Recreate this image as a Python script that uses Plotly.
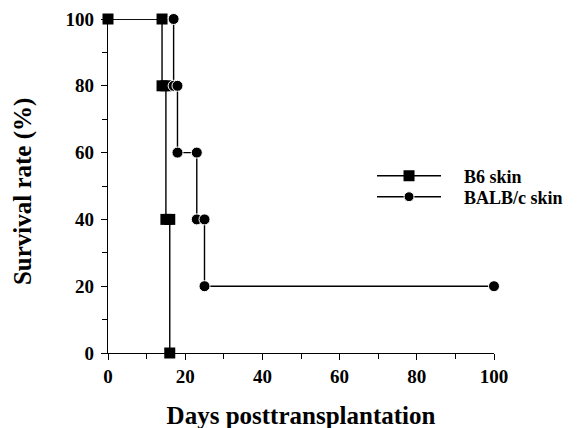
import plotly.graph_objects as go

# Data
b6_days = [0, 14, 14, 15, 15, 16, 16]
b6_surv = [100, 100, 80, 80, 40, 40, 0]
balb_days = [0, 17, 17, 18, 18, 23, 23, 25, 25, 100]
balb_surv = [100, 100, 80, 80, 60, 60, 40, 40, 20, 20]
x_ticks = [0, 20, 40, 60, 80, 100]
y_ticks = [0, 20, 40, 60, 80, 100]

FONT = "Liberation Serif"
SP = "&nbsp;" * 4

fig = go.Figure()
fig.add_trace(go.Scatter(
    x=b6_days, y=b6_surv, mode="lines+markers", name=SP + "<b>B6 skin</b>",
    line=dict(color="black", width=1.4),
    marker=dict(symbol="square", size=11, color="black", opacity=1),
    cliponaxis=False, legend="legend",
))
fig.add_trace(go.Scatter(
    x=balb_days, y=balb_surv, mode="lines+markers", name=SP + "<b>BALB/c skin</b>",
    line=dict(color="black", width=1.4),
    marker=dict(symbol="circle", size=[0] + [11] * (len(balb_days) - 1), color="black", opacity=1),
    cliponaxis=False, legend="legend2",
))

axis_common = dict(
    showline=True, linecolor="black", linewidth=1.4,
    ticks="outside", ticklen=6, tickwidth=1.4, tickcolor="black",
    showgrid=False, zeroline=False, automargin=False,
    tickfont=dict(family=FONT, size=19, color="black"),
    minor=dict(ticks="outside", ticklen=5, tickwidth=1.4, tickcolor="black", dtick=10, showgrid=False),
)

leg_common = dict(xanchor="left", yanchor="middle", itemwidth=64,
                  font=dict(family=FONT, size=18, color="black"), bgcolor="rgba(0,0,0,0)")

fig.update_layout(
    width=577, height=428,
    margin=dict(l=100, r=91, t=11, b=83),
    paper_bgcolor="white", plot_bgcolor="white",
    xaxis=dict(range=[0, 100], tickvals=x_ticks, ticktext=[f"<b>{v}</b>" for v in x_ticks],
               ticklabelstandoff=0,
               title=dict(text="<b>Days posttransplantation</b>", font=dict(family=FONT, size=25, color="black"), standoff=20),
               **axis_common),
    yaxis=dict(range=[0, 100], tickvals=y_ticks, ticktext=[f"<b>{v}</b>" for v in y_ticks],
               ticklabelstandoff=3,
               **axis_common),
    annotations=[dict(
        text="<b>Survival rate (%)</b>", textangle=-90, showarrow=False,
        xref="paper", yref="paper", x=-0.22, y=0.482, xanchor="center", yanchor="middle",
        font=dict(family=FONT, size=25, color="black"),
    )],
    legend=dict(x=0.684, y=(353 - 176) / 334, **leg_common),
    legend2=dict(x=0.684, y=(353 - 197) / 334, **leg_common),
    showlegend=True,
)

fig.write_html("out.html")
